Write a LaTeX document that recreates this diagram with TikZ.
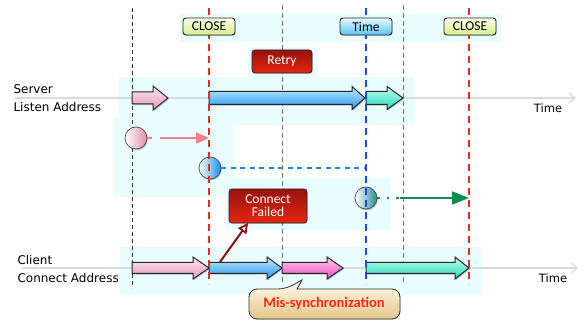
\documentclass[tikz,border=0pt]{standalone}
\usepackage{fontspec}
\setmainfont{DejaVu Sans}
\newfontfamily\boxfont{Carlito}
\usetikzlibrary{arrows.meta,shadows}

\definecolor{band}{RGB}{233,252,254}
\definecolor{axisgray}{RGB}{214,218,226}
\definecolor{redline}{RGB}{240,40,30}
\definecolor{blueline}{RGB}{30,70,240}
\definecolor{darkred}{RGB}{140,16,14}
\definecolor{greenarrow}{RGB}{16,140,80}
\definecolor{pinkarrow}{RGB}{240,128,140}
\definecolor{dotblue}{RGB}{20,140,240}

\tikzset{
  bandbox/.style={fill=band, draw=none},
  axis/.style={draw=axisgray, line width=1.5pt, -{Straight Barb[length=6pt,width=10pt,line width=1.3pt]}},
  axislabel/.style={font=\fontsize{11.5}{13}\selectfont, anchor=center},
  rowlabel/.style={font=\fontsize{12}{18}\selectfont, anchor=west, align=left},
  thinblack/.style={draw=black!80, line width=0.6pt, dash pattern=on 4pt off 3pt},
  thingray/.style={draw=black!55, line width=0.8pt, dash pattern=on 5pt off 3pt},
  redmark/.style={draw=redline, line width=1.6pt, dash pattern=on 7pt off 5pt},
  bluemark/.style={draw=blueline, line width=1.6pt, dash pattern=on 7pt off 5pt},
  tag/.style={draw=black!85, line width=0.9pt, rounded corners=3pt, minimum width=52pt,
    minimum height=17pt, inner sep=0pt, font=\boxfont\fontsize{13.5}{14}\selectfont,
    drop shadow={opacity=0.35, shadow xshift=0.6pt, shadow yshift=-0.8pt}},
  closetag/.style={tag, top color=yellow!8, bottom color={rgb,255:red,214;green,238;blue,140}},
  timetag/.style={tag, top color={rgb,255:red,228;green,250;blue,255}, bottom color={rgb,255:red,88;green,196;blue,240}},
  alertbox/.style={draw=black!85, line width=0.8pt, rounded corners=3pt, text=white,
    top color={rgb,255:red,150;green,20;blue,14}, bottom color={rgb,255:red,230;green,36;blue,16},
    font=\boxfont\fontsize{13.5}{14}\selectfont, align=center, inner sep=0pt,
    drop shadow={opacity=0.35, shadow xshift=0.6pt, shadow yshift=-0.8pt}},
  blk/.style={draw=black!85, line width=1pt, line join=miter,
    drop shadow={fill=blue!60!black, opacity=0.25, shadow xshift=0.8pt, shadow yshift=-1.2pt}},
  pinkblk/.style={blk, top color={rgb,255:red,253;green,232;blue,240}, bottom color={rgb,255:red,230;green,150;blue,180}},
  blueblk/.style={blk, top color={rgb,255:red,190;green,236;blue,255}, bottom color={rgb,255:red,40;green,150;blue,235}},
  tealblk/.style={blk, top color={rgb,255:red,190;green,255;blue,240}, bottom color={rgb,255:red,40;green,215;blue,185}},
  magblk/.style={blk, top color={rgb,255:red,255;green,200;blue,235}, bottom color={rgb,255:red,236;green,80;blue,190}},
  event/.style={circle, minimum size=22pt, inner sep=0pt, draw=black!70, line width=0.7pt,
    drop shadow={fill=blue!50!black, opacity=0.3, shadow xshift=0.8pt, shadow yshift=-1.2pt}},
}

% block arrow: #1 style, #2 x start, #3 head start, #4 tip x, #5 y, #6 shaft half height, #7 head half height
\newcommand\blockarrow[7]{%
  \path[#1] (#2,#5-#6) -- (#3,#5-#6) -- (#3,#5-#7) -- (#4,#5) -- (#3,#5+#7)
    -- (#3,#5+#6) -- (#2,#5+#6) -- cycle;}

\begin{document}
\begin{tikzpicture}[x=1pt, y=-1pt]
\useasboundingbox (0,0) rectangle (587,320);

% highlight bands
\fill[bandbox] (180,14) rectangle (501,42);
\fill[bandbox] (248,47) rectangle (317,77);
\fill[bandbox] (119,77) rectangle (415,125);
\fill[bandbox] (113,118) rectangle (233,197);
\fill[bandbox] (225,178) rectangle (390,230);
\fill[bandbox] (120,247) rectangle (482,295);

% time axes
\coordinate (sA) at (15,98);
\coordinate (sB) at (576,98);
\coordinate (cA) at (22,268);
\coordinate (cB) at (578,268);
\draw[axis] (sA) -- (sB);
\draw[axis] (cA) -- (cB);
\node[axislabel] (stime) at (548,108) {Time};
\node[axislabel] (ctime) at (553,278) {Time};

\node[rowlabel] (srv) at (10,98) {Server\\Listen Address};
\node[rowlabel] (cli) at (14,269) {Client\\Connect Address};

% time markers
\coordinate (m1t) at (132,8);   \coordinate (m1b) at (132,288);
\coordinate (m2t) at (209,8);   \coordinate (m2b) at (209,284);
\coordinate (m3t) at (282,5);   \coordinate (m3b) at (282,284);
\coordinate (m4t) at (366,8);   \coordinate (m4b) at (366,284);
\coordinate (m5t) at (403,5);   \coordinate (m5b) at (403,282);
\coordinate (m6t) at (469,8);   \coordinate (m6b) at (469,284);
\draw[thinblack] (m1t) -- (m1b);
\draw[thingray] (m3t) -- (m3b);
\draw[thingray] (m5t) -- (m5b);

% server side
\blockarrow{pinkblk}{132}{153}{168}{98}{6}{12}
\blockarrow{blueblk}{209}{352}{365}{98}{6.5}{11.5}
\blockarrow{tealblk}{366}{387}{403}{98}{6.5}{11.5}

% client side
\blockarrow{pinkblk}{132}{193}{209}{268}{5.5}{11}
\blockarrow{blueblk}{209}{267}{282}{268}{5.5}{11}
\blockarrow{magblk}{282}{327}{343}{268}{5.5}{11}
\blockarrow{tealblk}{366}{455}{469}{268}{5.5}{11}

% events
\node[event, left color=white, right color={rgb,255:red,232;green,140;blue,168}] (e1) at (136,138) {};
\node[event, left color=white, right color={rgb,255:red,20;green,140;blue,240}] (e2) at (210,168) {};
\node[event, left color=white, right color={rgb,255:red,40;green,140;blue,140}] (e3) at (366,198) {};

\coordinate (e1d) at (160,138);
\coordinate (e1t) at (209,138);
\draw[pinkarrow, line width=2pt] (e1.east) -- ++(5,0);
\draw[pinkarrow, line width=2pt, -{Triangle[length=13pt,width=11pt]}] (e1d) -- (e1t);

\coordinate (e2t) at (366,168);
\draw[dotblue, line width=2.2pt, dash pattern=on 5pt off 4.5pt] (e2.east) -- (e2t);

\coordinate (e3d) at (400,198);
\coordinate (e3t) at (469,198);
\draw[greenarrow, line width=2pt, dash pattern=on 2.5pt off 7pt] (e3.east) -- (e3d);
\draw[greenarrow, line width=2pt, -{Triangle[length=17pt,width=13pt]}] (e3d) -- (e3t);

% dashed markers over the activity
\draw[redmark] (m2t) -- (m2b);
\draw[bluemark] (m4t) -- (m4b);
\draw[redmark] (m6t) -- (m6b);

% tags
\node[closetag] (c1) at (209,26.5) {CLOSE};
\node[timetag] (t1) at (366,26.5) {Time};
\node[closetag] (c2) at (470,26.5) {CLOSE};

\node[alertbox, minimum width=60pt, minimum height=23pt] (retry) at (282,61.5) {Retry};
\node[alertbox, minimum width=78pt, minimum height=34pt] (fail) at (268,206) {Connect\\[-1pt]Failed};

\coordinate (failsrc) at (220,262);
\coordinate (failtip) at (248,223);
\draw[darkred, line width=2pt, -{Triangle[open,length=10pt,width=10pt,line width=1.8pt]}] (failsrc) -- (failtip);

% mis-synchronization callout
\path[draw=black!80, line width=0.8pt, top color={rgb,255:red,255;green,253;blue,240},
  bottom color={rgb,255:red,228;green,198;blue,136},
  drop shadow={opacity=0.3, shadow xshift=0.6pt, shadow yshift=-0.8pt}, rounded corners=8pt]
  (324,319) -- (249,319) -- (249,289) -- (286,289) [sharp corners] -- (302,280) -- (297,289)
  [rounded corners=8pt] -- (400,289) -- (400,319) -- cycle;
\node[font=\boxfont\bfseries\fontsize{14.5}{15}\selectfont, text={rgb,255:red,255;green,40;blue,16}] (miss) at (324,303.5) {Mis-synchronization};
\end{tikzpicture}
\end{document}
